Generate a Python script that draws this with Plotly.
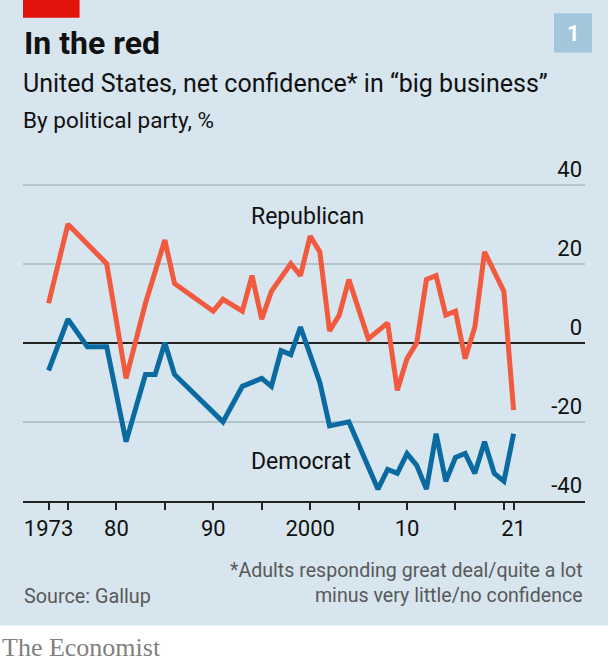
import plotly.graph_objects as go

# Gallup, net confidence in "big business" by party
rep_years = [1973, 1975, 1979, 1981, 1983, 1985, 1986, 1990, 1991, 1993, 1994, 1995,
             1996, 1998, 1999, 2000, 2001, 2002, 2003, 2004, 2006, 2008, 2009, 2010,
             2011, 2012, 2013, 2014, 2015, 2016, 2017, 2018, 2020, 2021]
rep_values = [10, 30, 20, -9, 10, 26, 15, 8, 11, 8, 17, 6,
              13, 20, 17, 27, 23, 3, 7, 16, 1, 5, -12, -4,
              0, 16, 17, 7, 8, -4, 4, 23, 13, -17]

dem_years = [1973, 1975, 1977, 1979, 1981, 1983, 1984, 1985, 1986, 1991, 1993, 1995,
             1996, 1997, 1998, 1999, 2001, 2002, 2004, 2007, 2008, 2009, 2010, 2011,
             2012, 2013, 2014, 2015, 2016, 2017, 2018, 2019, 2020, 2021]
dem_values = [-7, 6, -1, -1, -25, -8, -8, 0, -8, -20, -11, -9,
              -11, -2, -3, 4, -10, -21, -20, -37, -32, -33, -28, -31,
              -37, -23, -35, -29, -28, -33, -25, -33, -35, -23]

x_ticks = [1973, 1975, 1980, 1985, 1990, 1995, 2000, 2005, 2010, 2015, 2020, 2021]
x_labels = ["1973", "", "80", "", "90", "", "2000", "", "10", "", "", "21"]
y_ticks = [-40, -20, 0, 20, 40]
y_labels = ["-40", "-20", "0", "20", "40"]

RED = "#F15A3E"
BLUE = "#0B6BA0"
BG = "#D6E5EE"
FONT = "Roboto"

W, H = 608, 662
L, R, T, B = 22.7, 585, 153.4, 500.7


def px(x):
    return (x - L) / (R - L)


def py(y):
    return (B - y) / (B - T)


fig = go.Figure()

fig.add_trace(go.Scatter(x=rep_years, y=rep_values, mode="lines", name="Republican",
                         line=dict(color=RED, width=5), hoverinfo="x+y"))
fig.add_trace(go.Scatter(x=dem_years, y=dem_values, mode="lines", name="Democrat",
                         line=dict(color=BLUE, width=5), hoverinfo="x+y"))

# series labels
fig.add_annotation(x=1999.7, y=32, text="Republican", showarrow=False,
                   font=dict(family=FONT, size=23, color="#111"))
fig.add_annotation(x=1999.1, y=-30, text="Democrat", showarrow=False,
                   font=dict(family=FONT, size=23, color="#111"))

# header
fig.add_annotation(x=px(22), y=py(44), xref="paper", yref="paper", text="<b>In the red</b>",
                   showarrow=False, xanchor="left", yanchor="middle",
                   font=dict(family=FONT, size=32, color="#111"))
fig.add_annotation(x=px(21), y=py(84), xref="paper", yref="paper",
                   text="United States, net confidence* in \u201cbig business\u201d",
                   showarrow=False, xanchor="left", yanchor="middle",
                   font=dict(family=FONT, size=25, color="#111"))
fig.add_annotation(x=px(21), y=py(120), xref="paper", yref="paper",
                   text="By political party, %", showarrow=False,
                   xanchor="left", yanchor="middle",
                   font=dict(family=FONT, size=22.5, color="#111"))
fig.add_annotation(x=px(573), y=py(34), xref="paper", yref="paper", text="<b>1</b>",
                   showarrow=False, xanchor="center", yanchor="middle",
                   font=dict(family=FONT, size=22, color="white"))

# footer
fig.add_annotation(x=px(22), y=py(596), xref="paper", yref="paper", text="Source: Gallup",
                   showarrow=False, xanchor="left", yanchor="middle",
                   font=dict(family=FONT, size=19.8, color="#595959"))
fig.add_annotation(x=px(585), y=py(583), xref="paper", yref="paper",
                   text="*Adults responding great deal/quite a lot<br>minus very little/no confidence",
                   showarrow=False, xanchor="right", yanchor="middle", align="right",
                   font=dict(family=FONT, size=19.6, color="#595959"))
fig.add_annotation(x=px(0), y=py(647), xref="paper", yref="paper", text="The Economist",
                   showarrow=False, xanchor="left", yanchor="middle",
                   font=dict(family="Liberation Serif", size=26, color="#808080"))

# red tag, number box and white strip under the panel
fig.add_shape(type="rect", xref="paper", yref="paper", x0=px(22.7), x1=px(79.3),
              y0=py(18.3), y1=py(-2), fillcolor="#E3120B", line_width=0, layer="below")
fig.add_shape(type="rect", xref="paper", yref="paper", x0=px(554), x1=px(592),
              y0=py(53), y1=py(14), fillcolor="#A3C6DA", line_width=0, layer="below")
fig.add_shape(type="rect", xref="paper", yref="paper", x0=px(-2), x1=px(W + 2),
              y0=py(H + 2), y1=py(625), fillcolor="white", line_width=0, layer="below")

fig.update_layout(
    width=W, height=H,
    margin=dict(l=L, r=W - R, t=T, b=H - B, pad=0),
    paper_bgcolor=BG, plot_bgcolor=BG,
    showlegend=False,
    font=dict(family=FONT, color="#111"),
    xaxis=dict(range=[1970.36, 2028.37], tickvals=x_ticks, ticktext=x_labels,
               showgrid=False, zeroline=False, showline=True, linecolor="#222",
               linewidth=2, ticks="outside", ticklen=7, tickwidth=1.5, tickcolor="#222",
               tickfont=dict(family=FONT, size=22, color="#111"), fixedrange=True),
    yaxis=dict(range=[-40, 48], tickvals=y_ticks, ticktext=y_labels, side="right",
               ticklabelposition="inside top", showgrid=True, gridcolor="#B4C4CE",
               gridwidth=1.5, zeroline=True, zerolinecolor="#222", zerolinewidth=2,
               showline=False, ticks="",
               tickfont=dict(family=FONT, size=22, color="#111"), fixedrange=True),
)

fig.write_html("out.html", config={"displayModeBar": False},
               post_script="document.body.style.margin='0';")
